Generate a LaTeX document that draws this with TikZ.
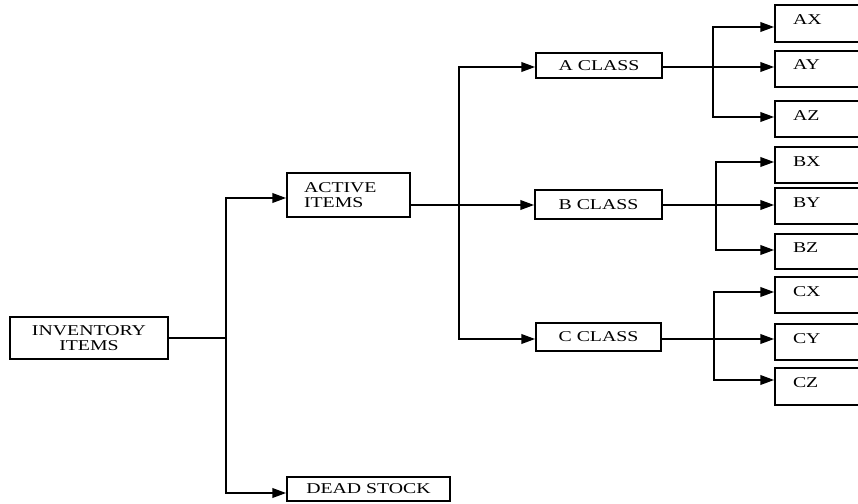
\documentclass[tikz,border=0pt]{standalone}
\usepackage{fontspec}
\setmainfont{Liberation Serif}[FakeStretch=1.32]
\usetikzlibrary{arrows.meta,calc}
\begin{document}
\begin{tikzpicture}[x=1pt,y=-1pt,
  box/.style={draw, line width=1.5pt, inner sep=0pt, font=\fontsize{15}{15}\selectfont},
  leaf/.style={box, minimum width=120pt, text width=84pt, align=left, text height=10pt, text depth=8pt},
  thinl/.style={line width=1.5pt},
  arr/.style={line width=2.3pt, -{Triangle[length=14pt,width=9.5pt]}}]
\useasboundingbox (0,0) rectangle (858,503);
\clip (0,0) rectangle (858,503);
\fill[white] (0,0) rectangle (858,503);
% main boxes
\node[box, minimum width=158pt, minimum height=42pt, align=center] (inv) at (89,338) {INVENTORY\\ITEMS};
\node[box, minimum width=123pt, minimum height=44pt, text width=89pt, align=left] (act) at (348.5,195) {ACTIVE\\ITEMS};
\node[box, minimum width=163pt, minimum height=24pt] (dead) at (368.5,489) {DEAD STOCK};
\node[box, minimum width=126pt, minimum height=25pt] (acl) at (599,65.5) {A CLASS};
\node[box, minimum width=127pt, minimum height=29pt] (bcl) at (598.5,204.5) {B CLASS};
\node[box, minimum width=125pt, minimum height=28pt] (ccl) at (598.5,337) {C CLASS};
% leaves
\node[leaf, minimum height=37pt] (ax) at (835,23.5) {AX};
\node[leaf, minimum height=36pt] (ay) at (835,69) {AY};
\node[leaf, minimum height=36pt] (az) at (835,119) {AZ};
\node[leaf, minimum height=36pt] (bx) at (835,165) {BX};
\node[leaf, minimum height=36pt] (by) at (835,206) {BY};
\node[leaf, minimum height=35pt] (bz) at (835,251.5) {BZ};
\node[leaf, minimum height=36pt] (cx) at (835,295) {CX};
\node[leaf, minimum height=36pt] (cy) at (835,342) {CY};
\node[leaf, minimum height=37pt] (cz) at (835,386.5) {CZ};
% junctions
\coordinate (j1) at (226,338);
\coordinate (j2) at (459,205);
\coordinate (ja) at (713,67);
\coordinate (jb) at (716,205);
\coordinate (jc) at (714,339);
% level 1
\draw[thinl] (inv.east) -- (j1);
\draw[arr] (j1) |- ($(act.west)+(0,3)$);
\draw[arr] (j1) |- ($(dead.west)+(0,4)$);
% level 2
\draw[thinl] (act.east |- j2) -- (j2);
\draw[arr] (j2) -- (bcl.west |- j2);
\draw[arr] (j2) |- ($(acl.west)+(0,1.5)$);
\draw[arr] (j2) |- ($(ccl.west)+(0,2)$);
% A group
\draw[thinl] (acl.east |- ja) -- (ja);
\draw[arr] (ja) |- ($(ax.west)+(0,3.5)$);
\draw[arr] (ja) -- (ay.west |- ja);
\draw[arr] (ja) |- ($(az.west)+(0,-2)$);
% B group
\draw[thinl] (bcl.east |- jb) -- (jb);
\draw[arr] (jb) |- ($(bx.west)+(0,-3)$);
\draw[arr] (jb) -- (by.west |- jb);
\draw[arr] (jb) |- ($(bz.west)+(0,-1.5)$);
% C group
\draw[thinl] (ccl.east |- jc) -- (jc);
\draw[arr] (jc) |- ($(cx.west)+(0,-3)$);
\draw[arr] (jc) -- (cy.west |- jc);
\draw[arr] (jc) |- ($(cz.west)+(0,-6.5)$);
\end{tikzpicture}
\end{document}
